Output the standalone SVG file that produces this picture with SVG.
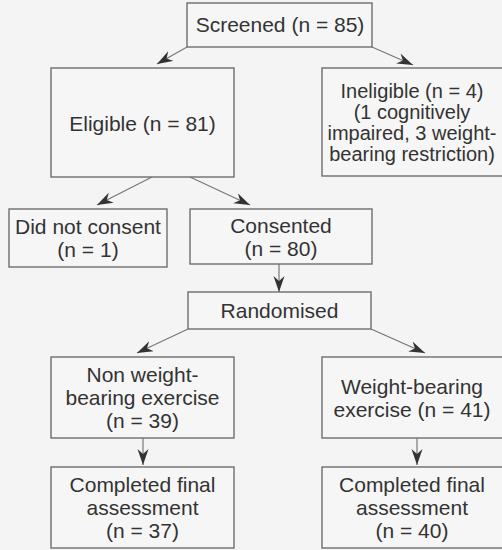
<svg xmlns="http://www.w3.org/2000/svg" width="502" height="550" viewBox="0 0 502 550">
<style>
.box{fill:#f6f6f6;stroke:#6e6e6e;stroke-width:1.4}
.t{font-family:"Liberation Sans",Arial,sans-serif;font-size:21px;fill:#333;text-anchor:middle}
.s{font-size:20px}
.c{stroke:#777;stroke-width:1.2;fill:none;marker-end:url(#ah)}
</style>
<defs>
<marker id="ah" markerUnits="userSpaceOnUse" markerWidth="18" markerHeight="12" refX="16" refY="5.5" orient="auto">
<path d="M0,0 L16,5.5 L0,11 L5,5.5 Z" fill="#333"/>
</marker>
</defs>
<rect width="502" height="550" fill="#f4f4f4"/>
<g id="connectors">
<line class="c" x1="187" y1="47" x2="157" y2="64"/>
<line class="c" x1="372" y1="47" x2="413" y2="65"/>
<line class="c" x1="152" y1="177" x2="97" y2="205"/>
<line class="c" x1="190" y1="177" x2="250" y2="205"/>
<line class="c" x1="279" y1="264" x2="279" y2="292"/>
<line class="c" x1="188" y1="329" x2="137" y2="353"/>
<line class="c" x1="371" y1="329" x2="425" y2="353"/>
<line class="c" x1="143" y1="438" x2="143" y2="465"/>
<line class="c" x1="417" y1="438" x2="417" y2="465"/>
</g>
<g id="screened"><rect class="box" x="187" y="3" width="185" height="44"/><text class="t" x="280" y="32">Screened (n = 85)</text></g>
<g id="eligible"><rect class="box" x="51" y="68" width="183" height="109"/><text class="t" x="142.5" y="131">Eligible (n = 81)</text></g>
<g id="ineligible"><rect class="box" x="322" y="68" width="190" height="108"/><text class="t s" x="412" y="97.5">Ineligible (n = 4)</text><text class="t s" x="412" y="118.5">(1 cognitively</text><text class="t s" x="412" y="139.5">impaired, 3 weight-</text><text class="t s" x="412" y="160.5">bearing restriction)</text></g>
<g id="noconsent"><rect class="box" x="9" y="209" width="158" height="58"/><text class="t" x="88" y="233.5">Did not consent</text><text class="t" x="88" y="256.5">(n = 1)</text></g>
<g id="consented"><rect class="box" x="190" y="209" width="182" height="55"/><text class="t" x="281" y="232.5">Consented</text><text class="t" x="281" y="255.5">(n = 80)</text></g>
<g id="randomised"><rect class="box" x="188" y="292" width="183" height="37"/><text class="t" x="279.5" y="318">Randomised</text></g>
<g id="nonwb"><rect class="box" x="51" y="357" width="183" height="81"/><text class="t" x="142.5" y="382">Non weight-</text><text class="t" x="142.5" y="405">bearing exercise</text><text class="t" x="142.5" y="428">(n = 39)</text></g>
<g id="wb"><rect class="box" x="322" y="357" width="190" height="81"/><text class="t" x="412" y="393.5">Weight-bearing</text><text class="t" x="412" y="416.5">exercise (n = 41)</text></g>
<g id="comp1"><rect class="box" x="51" y="467" width="183" height="81"/><text class="t" x="142.5" y="492">Completed final</text><text class="t" x="142.5" y="515">assessment</text><text class="t" x="142.5" y="538">(n = 37)</text></g>
<g id="comp2"><rect class="box" x="322" y="467" width="190" height="81"/><text class="t" x="412" y="492">Completed final</text><text class="t" x="412" y="515">assessment</text><text class="t" x="412" y="538">(n = 40)</text></g>
</svg>
